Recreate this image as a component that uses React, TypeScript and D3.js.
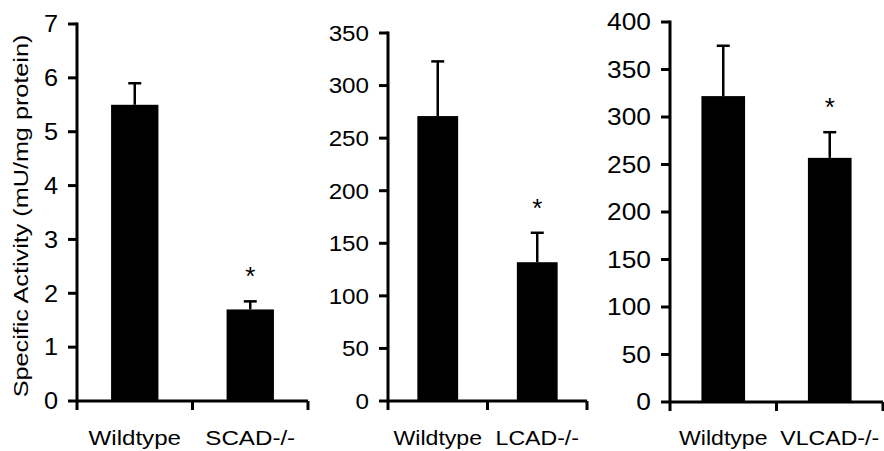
import React from "react";
import * as d3 from "d3";

// panel 1: SCAD
const scadGroups = ["Wildtype", "SCAD-/-"];
const scadMeans = [5.5, 1.7];
const scadErrors = [0.4, 0.15];
const scadTicks = [0, 1, 2, 3, 4, 5, 6, 7];
const scadStars = [false, true];

// panel 2: LCAD
const lcadGroups = ["Wildtype", "LCAD-/-"];
const lcadMeans = [271, 132];
const lcadErrors = [52, 28];
const lcadTicks = [0, 50, 100, 150, 200, 250, 300, 350];
const lcadStars = [false, true];

// panel 3: VLCAD
const vlcadGroups = ["Wildtype", "VLCAD-/-"];
const vlcadMeans = [322, 257];
const vlcadErrors = [53, 27];
const vlcadTicks = [0, 50, 100, 150, 200, 250, 300, 350, 400];
const vlcadStars = [false, true];

const FONT = "Liberation Sans, Arial, sans-serif";

type PanelProps = {
  groups: string[];
  means: number[];
  errors: number[];
  ticks: number[];
  stars: boolean[];
  x0: number;
  x1: number;
  yTop: number;
  yZero: number;
  tickFont: number;
  tickStretch: number;
  labelStretch: number;
};

const Panel = ({
  groups, means, errors, ticks, stars, x0, x1, yTop, yZero, tickFont, tickStretch, labelStretch,
}: PanelProps) => {
  const y = d3
    .scaleLinear()
    .domain([0, ticks[ticks.length - 1]])
    .range([yZero, yTop]);
  const x = d3
    .scaleBand()
    .domain(groups)
    .range([x0, x1])
    .paddingInner(0.59)
    .paddingOuter(0.295);
  const step = x.step();
  const bw = x.bandwidth();
  const capW = 13;

  return (
    <g>
      {/* bars */}
      {groups.map((g, i) => (
        <rect
          key={g}
          x={x(g)}
          y={y(means[i])}
          width={bw}
          height={yZero - y(means[i])}
          fill="#000"
        />
      ))}
      {/* error bars, upward only */}
      {groups.map((g, i) => {
        const cx = (x(g) as number) + bw / 2;
        const top = y(means[i] + errors[i]);
        return (
          <g key={"e" + g} stroke="#000" strokeWidth={2.5}>
            <line x1={cx} x2={cx} y1={y(means[i])} y2={top} />
            <line x1={cx - capW / 2} x2={cx + capW / 2} y1={top} y2={top} />
          </g>
        );
      })}
      {/* significance */}
      {groups.map((g, i) =>
        stars[i] ? (
          <text
            key={"s" + g}
            x={(x(g) as number) + bw / 2}
            y={y(means[i] + errors[i]) - 16}
            textAnchor="middle"
            fontFamily={FONT}
            fontSize={26}
          >
            *
          </text>
        ) : null
      )}
      {/* y axis */}
      <line x1={x0} x2={x0} y1={yTop - 1.5} y2={yZero} stroke="#000" strokeWidth={3} />
      {ticks.map((t) => (
        <g key={"t" + t}>
          <line x1={x0 - 9} x2={x0} y1={y(t)} y2={y(t)} stroke="#000" strokeWidth={3} />
          <text
            transform={`translate(${x0 - 19},${y(t)}) scale(${tickStretch},1)`}
            dy="0.36em"
            textAnchor="end"
            fontFamily={FONT}
            fontSize={tickFont}
          >
            {t}
          </text>
        </g>
      ))}
      {/* x axis */}
      <line x1={x0} x2={x1} y1={yZero} y2={yZero} stroke="#000" strokeWidth={3} />
      {d3.range(groups.length + 1).map((k) => (
        <line
          key={"xt" + k}
          x1={x0 + k * step}
          x2={x0 + k * step}
          y1={yZero}
          y2={yZero + 9}
          stroke="#000"
          strokeWidth={3}
        />
      ))}
      {groups.map((g) => (
        <text
          key={"l" + g}
          transform={`translate(${(x(g) as number) + bw / 2},445) scale(${labelStretch},1)`}
          textAnchor="middle"
          fontFamily={FONT}
          fontSize={21}
        >
          {g}
        </text>
      ))}
    </g>
  );
};

export default function App() {
  return (
    <svg
      width={884}
      height={451}
      style={{ position: "absolute", left: 0, top: 0, background: "#fff" }}
    >
      <text
        transform="translate(28,216) rotate(-90) scale(1.2,1)"
        textAnchor="middle"
        fontFamily={FONT}
        fontSize={21}
      >
        Specific Activity (mU/mg protein)
      </text>
      <Panel
        groups={scadGroups}
        means={scadMeans}
        errors={scadErrors}
        ticks={scadTicks}
        stars={scadStars}
        x0={77}
        x1={308}
        yTop={24}
        yZero={401}
        tickFont={23}
        tickStretch={1.1}
        labelStretch={1.15}
      />
      <Panel
        groups={lcadGroups}
        means={lcadMeans}
        errors={lcadErrors}
        ticks={lcadTicks}
        stars={lcadStars}
        x0={388}
        x1={587}
        yTop={33}
        yZero={401}
        tickFont={22}
        tickStretch={1.1}
        labelStretch={1.1}
      />
      <Panel
        groups={vlcadGroups}
        means={vlcadMeans}
        errors={vlcadErrors}
        ticks={vlcadTicks}
        stars={vlcadStars}
        x0={670}
        x1={883}
        yTop={22}
        yZero={402}
        tickFont={23.5}
        tickStretch={1.12}
        labelStretch={1.1}
      />
    </svg>
  );
}
